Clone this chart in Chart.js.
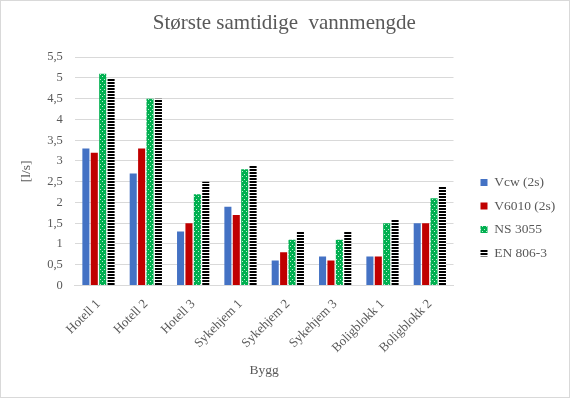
<!DOCTYPE html>
<html>
<head>
<meta charset="utf-8">
<script src="https://cdn.jsdelivr.net/npm/chart.js@4/dist/chart.umd.min.js"></script>
<style>
  html, body { margin: 0; padding: 0; background: #fff; }
  #wrap { position: relative; width: 568px; height: 396px; border: 1px solid #d9d9d9; }
</style>
</head>
<body>
<div id="wrap"><canvas id="c"></canvas></div>
<script>
const buildings = ['Hotell 1', 'Hotell 2', 'Hotell 3', 'Sykehjem 1', 'Sykehjem 2', 'Sykehjem 3', 'Boligblokk 1', 'Boligblokk 2'];
const vcw = [3.3, 2.7, 1.3, 1.9, 0.6, 0.7, 0.7, 1.5];
const v6010 = [3.2, 3.3, 1.5, 1.7, 0.8, 0.6, 0.7, 1.5];
const ns3055 = [5.1, 4.5, 2.2, 2.8, 1.1, 1.1, 1.5, 2.1];
const en806 = [5.0, 4.5, 2.5, 2.9, 1.3, 1.3, 1.6, 2.4];

const TEXT = '#595959';
const FONT = "'Liberation Serif', 'Times New Roman', serif";
Chart.defaults.color = TEXT;
Chart.defaults.font.family = FONT;

function dotPattern() {
  const p = document.createElement('canvas');
  p.width = 4; p.height = 5;
  const g = p.getContext('2d');
  g.fillStyle = '#00b050'; g.fillRect(0, 0, 4, 5);
  g.fillStyle = 'rgba(255,255,255,.75)';
  g.fillRect(1, 0, 1, 1); g.fillRect(3, 3, 1, 1);
  return g.createPattern(p, 'repeat');
}
function stripePattern() {
  const p = document.createElement('canvas');
  p.width = 4; p.height = 3;
  const g = p.getContext('2d');
  g.fillStyle = '#000'; g.fillRect(0, 0, 4, 3);
  g.fillStyle = '#fff'; g.fillRect(0, 2, 4, 1);
  return g.createPattern(p, 'repeat');
}

new Chart('c', {
  type: 'bar',
  data: {
    labels: buildings,
    datasets: [
      { label: 'Vcw (2s)', data: vcw, backgroundColor: '#4472c4' },
      { label: 'V6010 (2s)', data: v6010, backgroundColor: '#c00000' },
      { label: 'NS 3055', data: ns3055, backgroundColor: dotPattern() },
      { label: 'EN 806-3', data: en806, backgroundColor: stripePattern() },
    ]
  },
  options: {
    responsive: true, maintainAspectRatio: false, animation: false,
    datasets: { bar: { categoryPercentage: 0.71, barPercentage: 0.84 } },
    layout: { padding: { left: 17, right: 8, top: 6, bottom: 14 } },
    plugins: {
      // trailing spaces nudge the centred title a few px left, like the original
      title: { display: true, text: 'Største samtidige  vannmengde  ', color: TEXT, font: { size: 21, weight: 'normal' }, padding: { top: 4, bottom: 21 } },
      legend: {
        position: 'right',
        title: { display: true, text: ' ', padding: 15, font: { size: 13 } },
        labels: { boxWidth: 7, boxHeight: 7, padding: 10, color: TEXT, font: { size: 13.5 } }
      },
      tooltip: { enabled: false }
    },
    scales: {
      x: {
        grid: { display: false },
        border: { color: '#d9d9d9' },
        ticks: { color: TEXT, font: { size: 13 }, minRotation: 45, maxRotation: 45, autoSkip: false },
        title: { display: true, text: 'Bygg', color: TEXT, font: { size: 13.5 }, padding: { top: 4 } }
      },
      y: {
        min: 0, max: 5.5,
        grid: { color: '#d9d9d9', drawTicks: false },
        border: { display: false },
        ticks: { stepSize: 0.5, color: TEXT, font: { size: 12.5 }, padding: 12, callback: v => String(v).replace('.', ',') },
        title: { display: true, text: '[l/s]', color: TEXT, font: { size: 13.5 }, padding: { top: 0, bottom: 1 } }
      },
      gap: {
        position: 'right', display: true,
        grid: { display: false }, border: { display: false }, ticks: { display: false },
        afterFit: s => { s.width = 17; }
      }
    }
  }
});
</script>
</body>
</html>
